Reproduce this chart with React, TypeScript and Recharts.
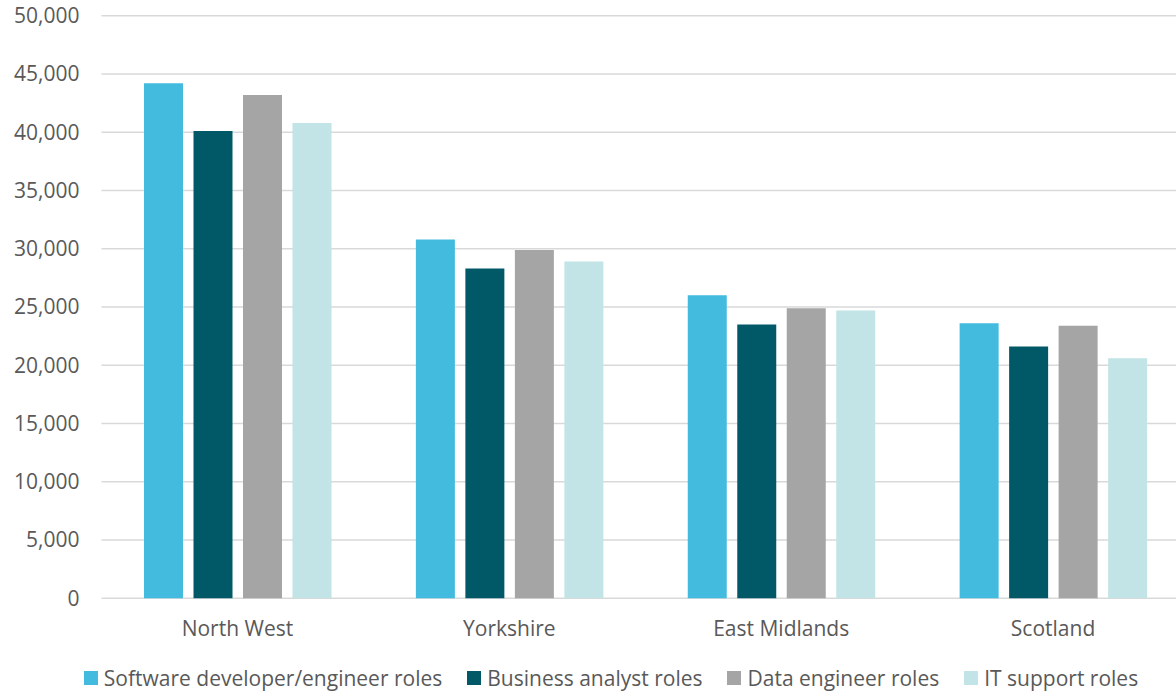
import { BarChart, Bar, XAxis, YAxis, CartesianGrid } from 'recharts'

const regions = ['North West', 'Yorkshire', 'East Midlands', 'Scotland']
const softwareDev = [44200, 30800, 26000, 23600]
const businessAnalyst = [40100, 28300, 23500, 21600]
const dataEngineer = [43200, 29900, 24900, 23400]
const itSupport = [40800, 28900, 24700, 20600]
const yTicks = [0, 5000, 10000, 15000, 20000, 25000, 30000, 35000, 40000, 45000, 50000]

const series = [
  { key: 'software', name: 'Software developer/engineer roles', color: '#42bbdf', values: softwareDev },
  { key: 'analyst', name: 'Business analyst roles', color: '#015867', values: businessAnalyst },
  { key: 'data', name: 'Data engineer roles', color: '#a5a5a5', values: dataEngineer },
  { key: 'support', name: 'IT support roles', color: '#c2e4e6', values: itSupport },
]

const data = regions.map((region, i) => {
  const row: Record<string, string | number> = { region }
  series.forEach(s => { row[s.key] = s.values[i] })
  return row
})

const textColor = '#595959'
const fmt = (v: number) => v.toLocaleString('en-US')

export default function App() {
  return (
    <div
      style={{
        position: 'fixed', left: 0, top: 0, width: 1176, height: 694,
        overflow: 'hidden', background: '#fff', fontFamily: '"Open Sans", sans-serif',
      }}
    >
      <BarChart
        width={1200}
        height={694}
        data={data}
        margin={{ top: 15.7, right: 11, bottom: 65.7, left: 0 }}
        barCategoryGap={42.5}
        barGap={10.5}
      >
        <CartesianGrid vertical={false} stroke="#d9d9d9" strokeWidth={1.5} />
        <XAxis
          dataKey="region"
          interval={0}
          axisLine={false}
          tickLine={false}
          tickSize={0}
          tickMargin={23}
          height={30}
          tick={{ fill: textColor, fontSize: 21 }}
        />
        <YAxis
          domain={[0, 50000]}
          ticks={yTicks}
          tickFormatter={fmt}
          axisLine={false}
          tickLine={false}
          tickSize={0}
          tickMargin={22}
          width={101.5}
          tick={{ fill: textColor, fontSize: 21 }}
        />
        {series.map(s => (
          <Bar key={s.key} dataKey={s.key} name={s.name} fill={s.color} isAnimationActive={false} />
        ))}
      </BarChart>
      {/* legend kept as html so it doesn't eat into the plot height */}
      <div
        style={{
          position: 'absolute', left: 0, top: 664, width: 1222, height: 28,
          display: 'flex', justifyContent: 'center', alignItems: 'center',
          fontSize: 21, lineHeight: '28px', color: textColor, whiteSpace: 'nowrap',
        }}
      >
        {series.map((s, i) => (
          <div key={s.key} style={{ display: 'flex', alignItems: 'center', marginLeft: i === 0 ? 0 : 25 }}>
            <span style={{ display: 'inline-block', width: 14, height: 14, background: s.color, marginRight: 6 }} />
            <span>{s.name}</span>
          </div>
        ))}
      </div>
    </div>
  )
}
